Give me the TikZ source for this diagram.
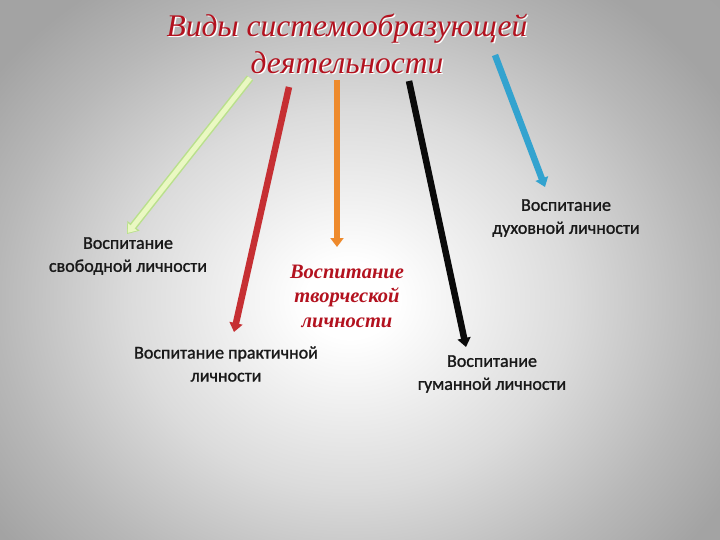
\documentclass[tikz,border=0pt]{standalone}
\usepackage{fontspec}
\setmainfont{Liberation Serif}
\newfontfamily\calib{Carlito}[BoldFont=Carlito, BoldFeatures={FakeBold=1.3}]
\usetikzlibrary{arrows.meta}
\definecolor{titlered}{HTML}{B3121F}
\definecolor{agreen}{HTML}{EAF8C2}
\definecolor{agreenedge}{HTML}{B9E08C}
\definecolor{ared}{HTML}{C62F33}
\definecolor{aorange}{HTML}{EE8A2C}
\definecolor{ablack}{HTML}{0A0A0A}
\definecolor{ablue}{HTML}{33A3CF}
\pgfdeclareradialshading{bgshade}{\pgfpoint{0bp}{0bp}}{color(0bp)=(white); color(2.5bp)=(white); color(12.5bp)=(black!14); color(20bp)=(black!28); color(25bp)=(black!36); color(50bp)=(black!38)}
\tikzset{
  arr/.style={line width=6.5pt, -{Triangle[width=13pt,length=9pt]}},
  arrout/.style={line width=8pt, -{Triangle[width=15pt,length=10.5pt]}},
  arrin/.style={line width=5pt, -{Triangle[width=11pt,length=7.5pt]}, shorten >=1.5pt},
  lab/.style={font=\calib\bfseries\fontsize{18}{23}\selectfont, align=center, text=black!90, inner sep=0pt},
  ttl/.style={font=\itshape\fontsize{31.5}{37}\selectfont, align=center, inner sep=0pt},
  tvorst/.style={font=\bfseries\itshape\fontsize{20.5}{24.5}\selectfont, align=center, text=titlered, inner sep=0pt}
}
\begin{document}
\begin{tikzpicture}[x=1pt,y=-1pt]
\useasboundingbox (0,0) rectangle (720,540);
\begin{scope}
\clip (0,0) rectangle (720,540);
\shade[shading=bgshade] (-90,-80) rectangle (790,680);
\end{scope}
% title
\node[ttl, text=white] at (348.5,45) {Виды системообразующей\\деятельности};
\node[ttl, text=titlered] (title) at (347,44) {Виды системообразующей\\деятельности};
% arrow end points
\coordinate (g1) at (250,78);  \coordinate (g2) at (127,234);
\coordinate (r1) at (289,87);  \coordinate (r2) at (234,332);
\coordinate (o1) at (337,80);  \coordinate (o2) at (337,247);
\coordinate (k1) at (409,81);  \coordinate (k2) at (466,347);
\coordinate (b1) at (495,55);  \coordinate (b2) at (545,187);
\draw[arrout, color=agreenedge] (g1) -- (g2);
\draw[arrin, color=agreen] (g1) -- (g2);
\draw[arr, color=ared] (r1) -- (r2);
\draw[arr, color=aorange] (o1) -- (o2);
\draw[arr, color=ablack] (k1) -- (k2);
\draw[arr, color=ablue] (b1) -- (b2);
% labels
\node[lab] (free) at (128,256) {Воспитание\\свободной личности};
\node[lab] (prac) at (226,364) {Воспитание практичной\\личности};
\node[lab] (gum) at (492,374) {Воспитание\\гуманной личности};
\node[lab] (duh) at (566,218) {Воспитание\\духовной личности};
\node[tvorst] (tvor) at (347,296) {Воспитание\\творческой\\личности};
\end{tikzpicture}
\end{document}
